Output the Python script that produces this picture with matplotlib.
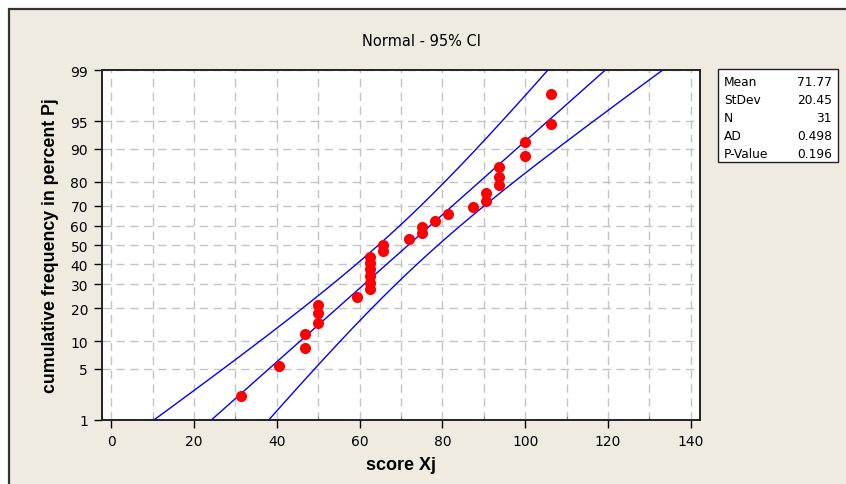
#!/usr/bin/env python3
"""Normal probability plot (Minitab style) with 95% CI bands."""

from statistics import NormalDist

import matplotlib
matplotlib.use("Agg")
import matplotlib.pyplot as plt
import numpy as np
from matplotlib.patches import Rectangle

# ----------------------
# Data
# ----------------------
scores = [31.25, 40.625, 46.875, 46.875, 50.0, 50.0, 50.0, 59.375,
          62.5, 62.5, 62.5, 62.5, 62.5, 62.5, 65.625, 65.625,
          71.875, 75.0, 75.0, 78.125, 81.25, 87.5, 90.625, 90.625,
          93.75, 93.75, 93.75, 100.0, 100.0, 106.25, 106.25]
percents = [2.23, 5.41, 8.60, 11.78, 14.97, 18.15, 21.34, 24.52,
            27.71, 30.89, 34.08, 37.26, 40.45, 43.63, 46.82, 50.0,
            53.18, 56.37, 59.55, 62.74, 65.92, 69.11, 72.29, 75.48,
            78.66, 81.85, 85.03, 88.22, 91.40, 94.59, 97.77]

mean = 71.77
stdev = 20.45
n_obs = 31
ad_stat = 0.498
p_value = 0.196

y_ticks = [1, 5, 10, 20, 30, 40, 50, 60, 70, 80, 90, 95, 99]
x_ticks = [0, 20, 40, 60, 80, 100, 120, 140]

stats_labels = ["Mean", "StDev", "N", "AD", "P-Value"]
stats_values = ["71.77", "20.45", "31", "0.498", "0.196"]

BG = "#EFEBE1"
W, H = 846, 485

nd = NormalDist()


def z(p):
    return nd.inv_cdf(p / 100.0)


fig = plt.figure(figsize=(W / 100, H / 100), dpi=100, facecolor="white")

# beige panel with dark frame (left/top edges visible)
fig.patches.append(Rectangle((9 / W, -0.1), 1.2, 1.1 - 10 / H,
                             transform=fig.transFigure, facecolor=BG,
                             edgecolor="#333333", lw=1.6, zorder=-5))

ax = fig.add_axes([102 / W, 1 - 421 / H, 598 / W, 350 / H])
ax.set_zorder(1)
ax.set_facecolor("white")

# fitted line and 95% CI for percentiles
zz = np.linspace(-2.6, 2.6, 200)
xp = mean + stdev * zz
se = stdev * np.sqrt(1.0 / n_obs + zz ** 2 / (2.0 * n_obs))
half = 1.96 * se
for xs in (xp, xp - half, xp + half):
    ax.plot(xs, zz, color="#0000FF", lw=1.0, zorder=3)

ax.plot(scores, [z(p) for p in percents], "o", color="#FF0000",
        markersize=8, markeredgewidth=0, zorder=4)

ax.set_xlim(-2.2, 142.2)
ax.set_ylim(z(1), z(99))

ax.set_xticks(x_ticks)
ax.set_xticks(np.arange(0, 141, 10), minor=True)
ax.set_yticks([z(p) for p in y_ticks])
ax.set_yticklabels([str(p) for p in y_ticks])

ax.grid(True, which="both", axis="x", color="#C4C4C4", ls=(0, (6, 4)), lw=1.0)
ax.grid(True, which="major", axis="y", color="#C4C4C4", ls=(0, (6, 4)), lw=1.0)
ax.set_axisbelow(True)

ax.tick_params(axis="both", which="major", direction="out", length=6,
               width=1.0, labelsize=10, colors="black", pad=4)
ax.tick_params(axis="x", which="minor", direction="in", length=3,
               width=0.8, colors="#888888")
for sp in ax.spines.values():
    sp.set_linewidth(1.4)
    sp.set_color("#222222")

ax.set_xlabel("score Xj", fontsize=13, fontweight="bold",
              family="Liberation Sans", labelpad=6)
ax.set_ylabel("cumulative frequency in percent Pj", fontsize=12.8,
              fontweight="bold", family="Liberation Sans", labelpad=8)

fig.text(421 / W, 1 - 42 / H, "Normal - 95% CI", ha="center", va="center",
         fontsize=10.5)

# stats box
fig.patches.append(Rectangle((718 / W, 1 - 163 / H), 120 / W, 93 / H,
                             transform=fig.transFigure, facecolor="white",
                             edgecolor="#222222", lw=1.0, zorder=2))
for i, (lab, val) in enumerate(zip(stats_labels, stats_values)):
    yy = 1 - (83 + 18 * i) / H
    fig.text(724 / W, yy, lab, ha="left", va="center", fontsize=8.8, zorder=3)
    fig.text(832 / W, yy, val, ha="right", va="center", fontsize=8.8, zorder=3)

fig.savefig("out.png", dpi=100, facecolor=fig.get_facecolor())
